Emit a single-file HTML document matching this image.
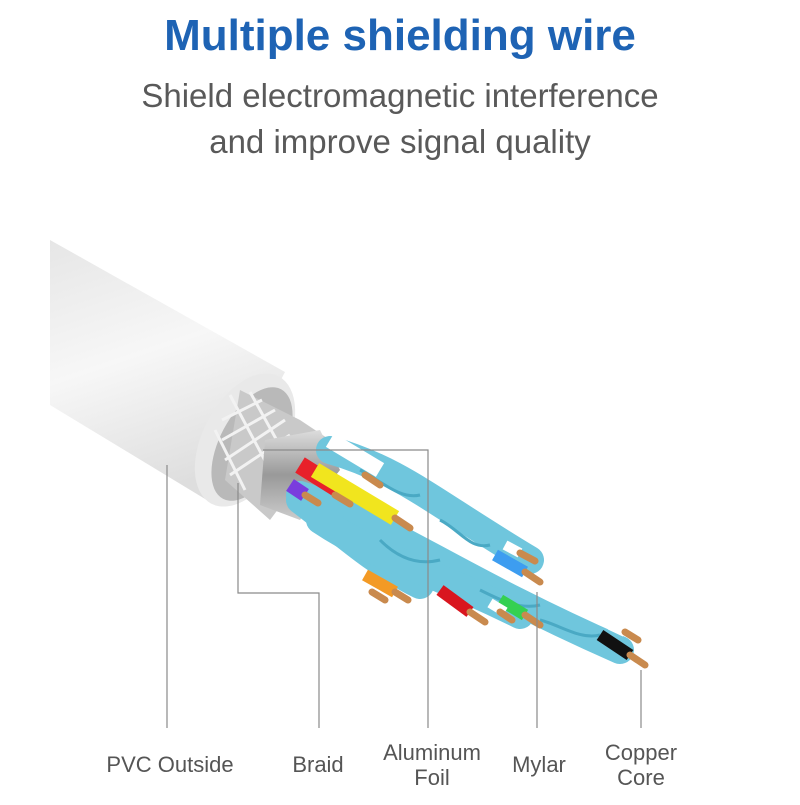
<!DOCTYPE html>
<html><head><meta charset="utf-8"><style>
body{margin:0;background:#fff;width:800px;height:800px;overflow:hidden;font-family:"Liberation Sans",sans-serif}
</style></head><body>
<svg width="800" height="800" viewBox="0 0 800 800" xmlns="http://www.w3.org/2000/svg">
<defs>
<linearGradient id="tube" x1="0" y1="0" x2="0.3" y2="1">
<stop offset="0" stop-color="#e6e6e6"/><stop offset="0.5" stop-color="#f7f7f7"/><stop offset="1" stop-color="#dedede"/></linearGradient>
<linearGradient id="foil" x1="0" y1="0" x2="0" y2="1">
<stop offset="0" stop-color="#ddd"/><stop offset="0.5" stop-color="#999"/><stop offset="1" stop-color="#ccc"/></linearGradient>
</defs>
<text x="400" y="50" text-anchor="middle" font-size="44" font-weight="bold" fill="#1e63b4">Multiple shielding wire</text>
<text x="400" y="107" text-anchor="middle" font-size="33" fill="#595959">Shield electromagnetic interference</text>
<text x="400" y="153" text-anchor="middle" font-size="33" fill="#595959">and improve signal quality</text>

<polygon points="50,240 285,372 215,505 50,405" fill="url(#tube)"/>
<ellipse cx="245" cy="440" rx="42" ry="72" transform="rotate(28 245 440)" fill="#e9e9e9"/>
<ellipse cx="252" cy="444" rx="32" ry="62" transform="rotate(28 252 444)" fill="#b9b9b9"/>
<polygon points="240,390 300,420 330,440 270,520 225,480" fill="#c9c9c9"/>
<g stroke="#f2f2f2" stroke-width="3" fill="none">
<path d="M222,420 L262,400 M222,440 L275,410 M225,460 L285,420 M230,475 L290,435"/>
<path d="M230,395 L270,470 M250,392 L285,455 M215,430 L245,490"/>
</g>
<polygon points="265,440 320,430 340,470 300,520 260,505" fill="url(#foil)"/>
<g stroke="#6fc6dd" stroke-width="28" stroke-linecap="round" fill="none">
<path d="M330,450 C400,470 430,500 530,560"/>
<path d="M300,495 C380,520 460,580 620,650"/>
<path d="M300,500 C340,530 370,560 420,585"/>
<path d="M320,520 C380,560 430,570 520,615"/>
</g>
<g stroke="#4aa9c4" stroke-width="3" fill="none">
<path d="M360,470 C380,480 400,500 420,495 M440,520 C460,530 470,550 490,545"/>
<path d="M380,540 C400,560 420,565 440,560 M480,590 C500,600 520,610 540,605"/>
<path d="M540,620 C560,625 580,640 600,635"/>
</g>
<g stroke-linecap="butt" fill="none">
<path d="M330,440 L380,470" stroke="#fff" stroke-width="16"/>
<path d="M300,465 L340,490" stroke="#e8202a" stroke-width="18"/>
<path d="M315,470 L395,518" stroke="#f1e51e" stroke-width="16"/>
<path d="M290,485 L305,495" stroke="#7a3ddd" stroke-width="14"/>
<path d="M365,575 L395,592" stroke="#f39a25" stroke-width="12"/>
<path d="M345,580 L365,590" stroke="#fff" stroke-width="10"/>
<path d="M440,590 L470,612" stroke="#d9161f" stroke-width="12"/>
<path d="M500,600 L525,615" stroke="#35d051" stroke-width="12"/>
<path d="M490,603 L505,612" stroke="#fff" stroke-width="10"/>
<path d="M495,555 L525,572" stroke="#3d9df0" stroke-width="12"/>
<path d="M505,545 L520,553" stroke="#fff" stroke-width="10"/>
<path d="M600,635 L630,655" stroke="#111" stroke-width="12"/>
<path d="M610,625 L625,632" stroke="#fff" stroke-width="10"/>
</g>
<g stroke="#c98a4e" stroke-width="7" stroke-linecap="round">
<path d="M365,475 L380,485 M335,495 L350,504 M395,518 L410,528 M305,495 L318,503 M395,592 L408,600 M372,592 L385,600 M470,612 L485,622 M525,615 L540,625 M500,612 L512,620 M525,572 L540,582 M520,553 L535,561 M630,655 L645,665 M625,632 L638,640"/>
</g>
<g stroke="#8a8a8a" stroke-width="1.2" fill="none">
<path d="M167,465 V728"/>
<path d="M238,483 V593 H319 V728"/>
<path d="M263,450 H428 V728"/>
<path d="M537,592 V728"/>
<path d="M641,670 V728"/>
</g>
<g font-size="22" fill="#555" text-anchor="middle">
<text x="170" y="772">PVC Outside</text>
<text x="318" y="772">Braid</text>
<text x="432" y="760">Aluminum</text>
<text x="432" y="785">Foil</text>
<text x="539" y="772">Mylar</text>
<text x="641" y="760">Copper</text>
<text x="641" y="785">Core</text>
</g>
</svg>
</body></html>
